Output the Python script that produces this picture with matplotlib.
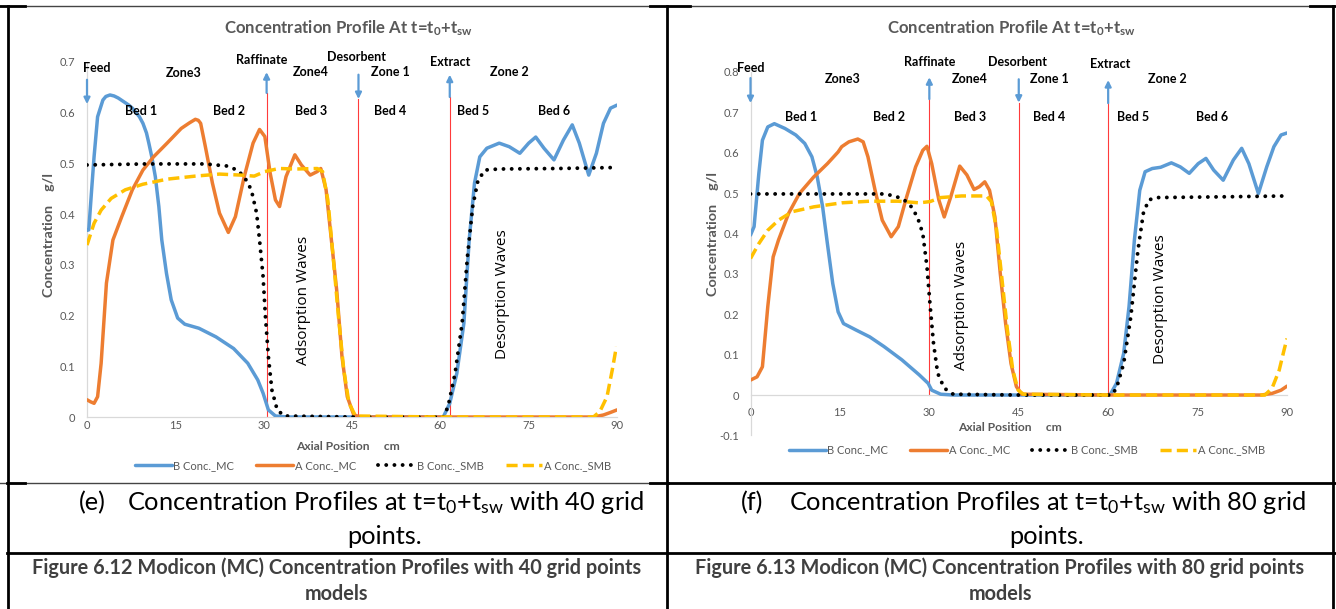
import matplotlib
matplotlib.use("Agg")
import matplotlib.pyplot as plt
from matplotlib.lines import Line2D

plt.rcParams['font.family'] = ['Lato', 'DejaVu Sans']
plt.rcParams['mathtext.fontset'] = 'custom'
plt.rcParams['mathtext.rm'] = 'Lato'
plt.rcParams['mathtext.it'] = 'Lato:italic'
plt.rcParams['mathtext.bf'] = 'Lato:bold'

# ---------------- data: panel (e), 40 grid points ----------------
e_bmc_x = [0.0, 0.3, 0.8, 1.2, 1.8, 2.7, 3.2, 3.9, 4.6, 5.3, 7.1, 7.7, 8.9, 9.5, 10.1, 10.5,
           11.0, 11.6, 12.2, 12.7, 13.5, 14.3, 15.4, 16.6, 19.0, 21.9, 24.9, 27.3, 29.0, 29.9,
           30.8, 32.0, 34.0, 45.0, 60.5, 61.6, 62.8, 64.0, 64.9, 65.8, 66.7, 67.9, 70.0, 71.7,
           73.5, 75.0, 76.2, 77.6, 79.3, 80.9, 82.4, 83.6, 85.2, 86.5, 87.7, 88.9, 90.0]
e_bmc_y = [0.368, 0.369, 0.450, 0.513, 0.592, 0.625, 0.632, 0.635, 0.633, 0.629, 0.615, 0.609,
           0.592, 0.579, 0.560, 0.540, 0.513, 0.474, 0.415, 0.349, 0.283, 0.231, 0.195, 0.183,
           0.175, 0.158, 0.135, 0.106, 0.073, 0.047, 0.014, 0.002, 0.0, 0.0, 0.0, 0.027, 0.086,
           0.185, 0.349, 0.461, 0.513, 0.530, 0.540, 0.533, 0.520, 0.540, 0.552, 0.530, 0.507,
           0.546, 0.576, 0.540, 0.477, 0.520, 0.579, 0.609, 0.615]

e_amc_x = [0.0, 0.6, 1.2, 1.8, 2.4, 3.3, 4.4, 5.9, 7.7, 9.5, 11.3, 13.6, 16.0, 17.4, 18.4, 18.9,
           19.3, 20.1, 21.3, 22.5, 24.0, 25.2, 26.7, 28.2, 29.3, 30.2, 31.1, 32.0, 32.7, 33.8,
           35.3, 36.4, 37.9, 39.1, 39.7, 40.6, 41.5, 42.4, 43.3, 44.2, 45.3, 46.5, 60.0, 86.0,
           87.7, 88.9, 90.0]
e_amc_y = [0.034, 0.030, 0.027, 0.040, 0.106, 0.264, 0.349, 0.395, 0.448, 0.487, 0.513, 0.540,
           0.569, 0.580, 0.587, 0.585, 0.579, 0.533, 0.461, 0.402, 0.364, 0.395, 0.474, 0.540,
           0.567, 0.553, 0.481, 0.428, 0.415, 0.474, 0.517, 0.497, 0.477, 0.484, 0.490, 0.448,
           0.349, 0.250, 0.119, 0.040, 0.004, 0.0, 0.0, 0.0, 0.004, 0.009, 0.014]

e_bsmb_x = [0.0, 10.0, 20.0, 23.7, 25.5, 26.7, 27.9, 28.8, 29.3, 29.9, 30.3, 30.8, 31.4, 32.3,
            33.5, 45.0, 60.5, 61.3, 62.5, 63.7, 64.6, 65.5, 66.4, 67.6, 69.9, 80.0, 90.0]
e_bsmb_y = [0.497, 0.499, 0.499, 0.495, 0.487, 0.474, 0.448, 0.402, 0.349, 0.277, 0.198, 0.119,
            0.053, 0.014, 0.002, 0.0, 0.0, 0.020, 0.086, 0.185, 0.316, 0.415, 0.467, 0.487,
            0.489, 0.490, 0.492]

e_asmb_x = [0.0, 1.2, 2.4, 4.1, 6.5, 9.5, 13.6, 18.4, 22.5, 26.1, 28.4, 30.2, 32.6, 35.6, 39.1,
            40.0, 40.9, 41.8, 42.7, 43.6, 44.5, 45.6, 60.0, 86.0, 87.1, 88.3, 89.2, 89.9]
e_asmb_y = [0.339, 0.382, 0.408, 0.431, 0.448, 0.459, 0.469, 0.475, 0.479, 0.477, 0.475, 0.484,
            0.490, 0.489, 0.490, 0.484, 0.428, 0.316, 0.198, 0.093, 0.027, 0.002, 0.0, 0.0,
            0.011, 0.040, 0.093, 0.139]

# port positions (cm) for panel (e): raffinate, desorbent, extract
e_ports = [30.5, 46.1, 61.6]

# ---------------- data: panel (f), 80 grid points ----------------
f_bmc_x = [0.0, 0.6, 1.4, 2.0, 2.9, 4.0, 5.8, 7.6, 9.1, 10.3, 11.2, 12.1, 12.9, 13.8, 14.7, 15.6,
           17.7, 20.0, 22.4, 25.4, 28.3, 29.8, 30.4, 31.9, 34.0, 45.0, 60.3, 61.4, 62.6, 63.5,
           64.4, 65.3, 66.2, 67.4, 68.8, 70.6, 72.1, 73.6, 75.1, 76.4, 77.7, 79.3, 81.0, 82.4,
           83.6, 85.2, 86.6, 87.8, 89.0, 90.0]
f_bmc_y = [0.396, 0.417, 0.549, 0.631, 0.664, 0.672, 0.660, 0.644, 0.623, 0.590, 0.540, 0.466,
           0.375, 0.276, 0.206, 0.177, 0.161, 0.144, 0.120, 0.087, 0.050, 0.029, 0.012, 0.002,
           0.0, 0.0, 0.0, 0.029, 0.103, 0.219, 0.384, 0.507, 0.553, 0.561, 0.564, 0.575, 0.565,
           0.549, 0.573, 0.586, 0.557, 0.532, 0.582, 0.611, 0.573, 0.499, 0.565, 0.615, 0.644,
           0.649]

f_amc_x = [0.0, 1.1, 2.0, 2.9, 3.8, 4.7, 6.4, 8.2, 10.6, 12.9, 14.7, 15.3, 16.5, 18.0, 18.9,
           19.7, 20.9, 22.1, 23.6, 24.8, 26.2, 27.7, 28.9, 29.6, 30.4, 31.6, 32.5, 33.6, 35.1,
           36.3, 37.5, 38.4, 39.3, 40.1, 41.0, 41.9, 42.8, 43.7, 44.6, 45.5, 60.0, 85.7, 87.5,
           89.0, 90.0]
f_amc_y = [0.037, 0.045, 0.070, 0.219, 0.342, 0.384, 0.450, 0.499, 0.540, 0.573, 0.602, 0.615,
           0.627, 0.634, 0.627, 0.590, 0.507, 0.433, 0.392, 0.417, 0.491, 0.565, 0.606, 0.616,
           0.573, 0.483, 0.441, 0.491, 0.567, 0.545, 0.509, 0.516, 0.528, 0.507, 0.441, 0.301,
           0.177, 0.078, 0.021, 0.002, 0.0, 0.0, 0.004, 0.012, 0.022]

f_bsmb_x = [0.0, 10.0, 22.4, 24.2, 25.7, 26.8, 28.0, 28.9, 29.6, 30.1, 30.7, 31.4, 32.5, 34.0,
            45.0, 60.6, 61.4, 62.6, 63.8, 65.0, 65.9, 66.8, 68.0, 80.0, 90.0]
f_bsmb_y = [0.498, 0.498, 0.498, 0.493, 0.484, 0.470, 0.441, 0.400, 0.318, 0.227, 0.128, 0.054,
            0.017, 0.002, 0.0, 0.0, 0.017, 0.078, 0.194, 0.359, 0.450, 0.483, 0.489, 0.491,
            0.493]

f_asmb_x = [0.0, 1.4, 2.9, 4.7, 7.0, 10.6, 15.3, 20.0, 24.8, 28.3, 30.1, 31.9, 35.4, 39.6, 40.4,
            41.3, 42.2, 43.1, 44.0, 44.9, 45.8, 60.0, 86.3, 87.5, 88.7, 89.5, 90.0]
f_asmb_y = [0.338, 0.375, 0.408, 0.433, 0.454, 0.466, 0.476, 0.480, 0.480, 0.476, 0.479, 0.489,
            0.493, 0.493, 0.479, 0.408, 0.285, 0.161, 0.062, 0.012, 0.002, 0.0, 0.0, 0.017,
            0.062, 0.111, 0.140]

f_ports = [30.0, 45.0, 60.0]

x_ticks = [0, 15, 30, 45, 60, 75, 90]
series_names = ["B Conc._MC", "A Conc._MC", "B Conc._SMB", "A Conc._SMB"]
bed_names = ["Bed 1", "Bed 2", "Bed 3", "Bed 4", "Bed 5", "Bed 6"]

BLUE, ORANGE, GOLD = "#5B9BD5", "#ED7D31", "#FFC000"
GRAY_TXT, AXIS_GRAY = "#595959", "#D9D9D9"

W, H = 1336, 609
fig = plt.figure(figsize=(W / 100, H / 100), dpi=100)


def fx(px):
    return px / W


def fy(py):
    return 1 - py / H


def panel(rect, ylim, yticks, series, ports, arrows, labels, waves, legend_at,
          xpad, ypad, yfmt):
    ax = fig.add_axes(rect)
    ax.set_xlim(0, 90)
    ax.set_ylim(*ylim)
    for s in ("top", "right"):
        ax.spines[s].set_visible(False)
    for s in ("left", "bottom"):
        ax.spines[s].set_color(AXIS_GRAY)
        ax.spines[s].set_linewidth(0.9)
    ax.spines["bottom"].set_position(("data", 0))
    ax.set_xticks(x_ticks)
    ax.set_yticks(yticks)
    ax.set_yticklabels([yfmt(v) for v in yticks])
    ax.tick_params(axis="x", length=0, pad=xpad, labelsize=8, labelcolor=GRAY_TXT)
    ax.tick_params(axis="y", length=0, pad=ypad, labelsize=8, labelcolor=GRAY_TXT)

    (bx, by), (ax_, ay), (sx, sy), (gx, gy) = series
    h1, = ax.plot(bx, by, color=BLUE, lw=2.5, solid_capstyle="round",
                  solid_joinstyle="round", zorder=3)
    h2, = ax.plot(ax_, ay, color=ORANGE, lw=2.5, solid_capstyle="round",
                  solid_joinstyle="round", zorder=3)
    h3, = ax.plot(sx, sy, color="black", lw=2.8, linestyle=(0, (0.01, 2.1)),
                  dash_capstyle="round", zorder=4)
    h4, = ax.plot(gx, gy, color=GOLD, lw=2.5, linestyle=(0, (3.2, 1.5)), zorder=5)

    # port lines
    for px, top in ports:
        ax.plot([px, px], [0, top], color="#FF3B3B", lw=0.8, zorder=2)
    # flow arrows
    for x0, ytail, yhead in arrows:
        ax.annotate("", xy=(x0, yhead), xytext=(x0, ytail),
                    arrowprops=dict(arrowstyle="-|>", color=BLUE, lw=1.6,
                                    mutation_scale=9, shrinkA=0, shrinkB=0),
                    annotation_clip=False, zorder=6)
    for txt, x0, y0 in labels:
        ax.text(x0, y0, txt, ha="center", va="center", fontsize=9, fontweight="bold",
                color="black", clip_on=False, zorder=7)
    for txt, x0, y0 in waves:
        ax.text(x0, y0, txt, ha="center", va="center", rotation=90, fontsize=11,
                family=["Open Sans", "DejaVu Sans"], color="black", zorder=7)

    leg = ax.legend([h1, h2, h3, h4], series_names, loc="center",
                    bbox_to_anchor=(fx(legend_at[0]), fy(legend_at[1])),
                    bbox_transform=fig.transFigure, ncol=4, frameon=False, fontsize=8,
                    handlelength=3.3, handletextpad=0.15, columnspacing=2.0,
                    borderpad=0, borderaxespad=0)
    for t in leg.get_texts():
        t.set_color(GRAY_TXT)
    return ax


def fmt_tick(v):
    return "0" if v == 0 else f"{v:.1f}"


# ---------- panel (e) ----------
e_rect = [fx(87), fy(417), fx(617) - fx(87), fy(62) - fy(417)]
panel(e_rect, (0, 0.7), [0, 0.1, 0.2, 0.3, 0.4, 0.5, 0.6, 0.7],
      [(e_bmc_x, e_bmc_y), (e_amc_x, e_amc_y), (e_bsmb_x, e_bsmb_y), (e_asmb_x, e_asmb_y)],
      [(e_ports[0], 0.639), (e_ports[1], 0.627), (e_ports[2], 0.631)],
      [(0.0, 0.665, 0.617), (e_ports[0], 0.639, 0.680), (e_ports[1], 0.675, 0.627),
       (e_ports[2], 0.631, 0.675)],
      [("Feed", 1.7, 0.688), ("Zone3", 16.4, 0.679), ("Raffinate", 29.7, 0.703),
       ("Zone4", 38.0, 0.680), ("Desorbent", 45.8, 0.709), ("Zone 1", 51.5, 0.680),
       ("Extract", 61.6, 0.700), ("Zone 2", 71.8, 0.680)]
      + list(zip(bed_names, [9.25, 24.1, 38.0, 51.5, 65.6, 79.3], [0.604] * 6)),
      [("Adsorption Waves", 36.7, 0.230), ("Desorption Waves", 70.6, 0.242)],
      (373, 465.7), 2.0, 8.6, fmt_tick)

# ---------- panel (f) ----------
f_rect = [fx(750.5), fy(435.4), fx(1287) - fx(750.5), fy(72) - fy(435.4)]
panel(f_rect, (-0.1, 0.8), [-0.1, 0, 0.1, 0.2, 0.3, 0.4, 0.5, 0.6, 0.7, 0.8],
      [(f_bmc_x, f_bmc_y), (f_amc_x, f_amc_y), (f_bsmb_x, f_bsmb_y), (f_asmb_x, f_asmb_y)],
      [(f_ports[0], 0.733), (f_ports[1], 0.724), (f_ports[2], 0.723)],
      [(0.0, 0.785, 0.723), (f_ports[0], 0.733, 0.787), (f_ports[1], 0.782, 0.724),
       (f_ports[2], 0.723, 0.780)],
      [("Feed", 0.0, 0.811), ("Zone3", 15.4, 0.782), ("Raffinate", 30.1, 0.824),
       ("Zone4", 36.8, 0.782), ("Desorbent", 44.8, 0.826), ("Zone 1", 50.1, 0.782),
       ("Extract", 60.3, 0.819), ("Zone 2", 70.0, 0.782)]
      + list(zip(bed_names, [8.5, 23.2, 36.9, 50.1, 64.1, 77.5], [0.689] * 6)),
      [("Adsorption Waves", 35.4, 0.223), ("Desorption Waves", 68.8, 0.238)],
      (1027, 450), 8.5, 8.3, fmt_tick)

# ---------- chart titles and axis titles ----------
# each entry: (text artist, target extent in px, "w"/"h", companion artists sharing its size)
fitted = []
title_txt = r"Concentration Profile At t=t$_{\mathbf{0}}$+t$_{\mathbf{sw}}$"
for cx in (348, 1011):
    fitted.append((fig.text(fx(cx), fy(28.3), title_txt, ha="center", va="center",
                            fontsize=11, fontweight="bold", color=GRAY_TXT), 248, "w", []))
for cx, cy in ((49, 235), (713, 234)):
    fitted.append((fig.text(fx(cx), fy(cy), "Concentration    g/l", ha="center", va="center",
                            rotation=90, fontsize=10, fontweight="bold", color=GRAY_TXT),
                   124, "h", []))
for cx, cy in ((348, 446), (1010, 427.7)):
    fitted.append((fig.text(fx(cx), fy(cy), "Axial Position     cm", ha="center",
                            va="center", fontsize=8.5, fontweight="bold", color=GRAY_TXT),
                   104, "w", []))

# ---------- table captions ----------
sub_txt = r"Concentration Profiles at t=t$_0$+t$_{\mathrm{sw}}$ with {} grid"
for tag, tag_x, body_x, n, pts_x in (("(e)", 79, 127, 40, 385), ("(f)", 741, 789, 80, 1047)):
    t_tag = fig.text(fx(tag_x), fy(503), tag, ha="left", va="center", fontsize=16,
                     color="black")
    t_pts = fig.text(fx(pts_x), fy(536.5), "points.", ha="center", va="center", fontsize=16,
                     color="black")
    fitted.append((fig.text(fx(body_x), fy(503), sub_txt.replace("{}", str(n)), ha="left",
                            va="center", fontsize=16, color="black"), 518, "w",
                   [t_tag, t_pts]))

for cx, num, n in ((337, "6.12", 40), (1000, "6.13", 80)):
    t_mod = fig.text(fx(cx), fy(594), "models", ha="center", va="center", fontsize=12,
                     fontweight="bold", color="#404040")
    fitted.append((fig.text(fx(cx), fy(568), f"Figure {num} Modicon (MC) Concentration "
                            f"Profiles with {n} grid points", ha="center", va="center",
                            fontsize=12, fontweight="bold", color="#404040"), 604, "w",
                   [t_mod]))

# scale the long text lines to their column widths
fig.canvas.draw()
rend = fig.canvas.get_renderer()
for t, target, dim, companions in fitted:
    bb = t.get_window_extent(rend)
    size = bb.width if dim == "w" else bb.height
    new_size = t.get_fontsize() * target / size
    t.set_fontsize(new_size)
    for c in companions:
        c.set_fontsize(new_size)


# ---------- table rules ----------
def hline(y, x0, x1, color="black", lw=2.0):
    fig.add_artist(Line2D([fx(x0), fx(x1)], [fy(y), fy(y)], color=color, lw=lw))


def vline(x, y0, y1, color="black", lw=2.0):
    fig.add_artist(Line2D([fx(x), fx(x)], [fy(y0), fy(y1)], color=color, lw=lw))


hline(6, 0, 1336, color="#444444", lw=1.0)
for a, b in ((0, 25), (650, 690), (1310, 1336)):
    hline(6, a, b)
hline(483, 0, 668, color="#444444", lw=1.0)
for a, b in ((7, 25), (650, 668)):
    hline(483, a, b)
hline(483, 668, 1336)
hline(552.5, 7, 1336)
for xv in (7.5, 667, 1332.5):
    vline(xv, 6, 609)

fig.savefig("out.png", dpi=100, facecolor="white")
